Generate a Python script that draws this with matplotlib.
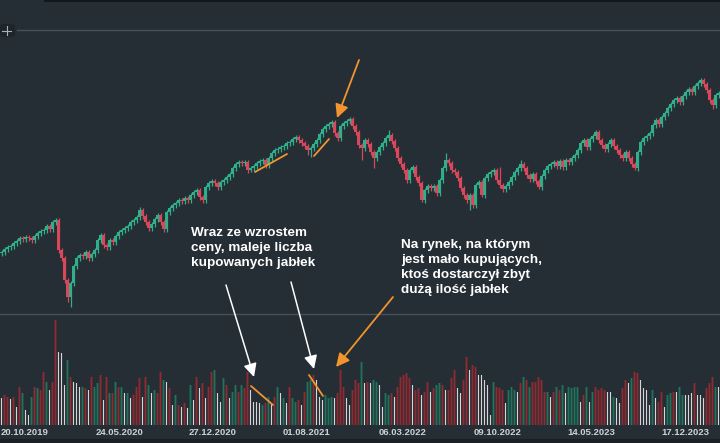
import matplotlib
matplotlib.use("Agg")
import matplotlib.pyplot as plt
from matplotlib import font_manager
from matplotlib.patches import FancyBboxPatch, Rectangle
import numpy as np

# ---------------- data (weekly candles, arbitrary price units) ----------------
first_open = 77
closes = [
    78, 81, 83, 84, 87, 89, 92, 91, 93, 92,
    90, 94, 97, 99, 100, 104, 101, 108, 110, 80,
    72, 50, 33, 47, 64, 72, 75, 74, 78, 72,
    76, 80, 90, 95, 85, 83, 90, 88, 94, 98,
    100, 102, 104, 108, 110, 113, 120, 114, 108, 102,
    106, 111, 115, 108, 101, 118, 122, 125, 127, 130,
    129, 132, 130, 135, 138, 140, 133, 130, 143, 147,
    149, 147, 143, 148, 150, 153, 156, 162, 166, 168,
    167, 168, 160, 162, 164, 167, 169, 170, 165, 172,
    177, 180, 181, 183, 184, 187, 188, 191, 193, 190,
    187, 184, 180, 182, 186, 190, 196, 201, 204, 206,
    208, 197, 192, 204, 207, 209, 211, 204, 198, 185,
    182, 190, 186, 178, 172, 178, 183, 187, 192, 195,
    189, 182, 172, 166, 160, 150, 160, 163, 153, 147,
    130, 140, 144, 142, 144, 137, 150, 162, 170, 167,
    160, 158, 152, 142, 135, 130, 135, 125, 145, 148,
    135, 152, 156, 158, 160, 150, 145, 141, 144, 148,
    153, 158, 162, 166, 162, 155, 151, 156, 149, 143,
    154, 160, 164, 166, 168, 164, 169, 163, 170, 168,
    172, 175, 180, 187, 190, 183, 191, 194, 198, 190,
    185, 181, 186, 190, 184, 180, 175, 172, 178, 172,
    166, 162, 178, 188, 192, 194, 197, 205, 210, 206,
    213, 217, 222, 226, 230, 232, 228, 234, 238, 241,
    238, 244, 247, 250, 246, 240, 230, 225, 235, 237,
]
# notable wick extremes (candle index -> price)
wick_high = {18: 112, 46: 123, 116: 213, 129: 200, 148: 177, 166: 163,
             173: 170, 198: 200, 233: 252}
wick_low = {22: 28, 23: 23, 49: 99, 83: 158, 102: 175, 103: 173, 120: 170,
            124: 162, 140: 128, 156: 120, 160: 133, 179: 141, 211: 160, 237: 221}

volume = [
    27, 30, 28, 26, 28, 18, 38, 32, 15, 10,
    28, 38, 37, 35, 53, 43, 35, 43, 105, 73,
    72, 40, 65, 48, 43, 42, 38, 38, 37, 35,
    48, 38, 42, 50, 25, 48, 32, 32, 43, 38,
    38, 32, 32, 27, 30, 38, 47, 28, 48, 40,
    32, 35, 32, 53, 45, 43, 37, 20, 30, 20,
    18, 22, 17, 40, 25, 48, 37, 42, 27, 38,
    53, 55, 32, 23, 47, 40, 27, 33, 40, 33,
    40, 37, 53, 35, 23, 23, 22, 20, 22, 28,
    22, 28, 38, 32, 27, 22, 38, 27, 23, 25,
    20, 33, 43, 45, 50, 45, 28, 25, 30, 27,
    28, 27, 32, 55, 38, 27, 20, 35, 45, 42,
    63, 42, 43, 42, 45, 43, 40, 18, 32, 30,
    32, 28, 38, 48, 50, 52, 47, 40, 35, 37,
    30, 33, 43, 33, 37, 40, 42, 40, 35, 35,
    47, 55, 37, 32, 45, 68, 55, 60, 58, 50,
    50, 45, 40, 10, 43, 38, 37, 35, 22, 35,
    38, 35, 33, 42, 48, 45, 38, 43, 43, 48,
    45, 33, 33, 28, 33, 38, 35, 40, 32, 38,
    37, 38, 38, 23, 30, 38, 23, 33, 38, 35,
    37, 35, 33, 33, 28, 27, 22, 37, 45, 42,
    47, 53, 52, 45, 37, 35, 20, 35, 27, 23,
    33, 18, 30, 32, 33, 33, 38, 30, 30, 30,
    32, 42, 30, 30, 27, 37, 42, 48, 38, 38,
]
# volume bar kind: r = down, g = up, w = highlighted (white)
vol_kind = list(
    "wrrwrwrgww" "grgrrgwrrw" "wwgrwwwgrw" "rggrwrgrgr"
    "gwgwrrrwrg" "wgrrgwrwgr" "wrwgwrwrwr" "rgwwgrwggr"
    "grrwwwwgrg" "wrgwgwrggr" "wrggrwwwgg" "gwrrrwwrrr"
    "gwrwggwwgg" "rwrrrrrwrr" "wrrwrggrwr" "rrwwrrwrrw"
    "wwwwgrrrwg" "ggwrgrgrrr" "rrgwrgrgwg" "gggwrgwgrr"
    "rrwwgwwrrw" "grrwwwwgwr" "rwggrwggww" "wrwwwrrrgw"
)

date_labels = ["20.10.2019", "24.05.2020", "27.12.2020", "01.08.2021",
               "06.03.2022", "09.10.2022", "14.05.2023", "17.12.2023"]
date_pos = [7.8, 39.5, 70.5, 101.8, 133.8, 165.2, 196.5, 227.8]

text_left = "Wraz ze wzrostem\nceny, maleje liczba\nkupowanych jabłek"
text_right = "Na rynek, na którym\njest mało kupujących,\nktoś dostarczył zbyt\ndużą ilość jabłek"

# ---------------- style ----------------
BG = "#252d35"
UP = "#2fb08b"
DOWN = "#d9475b"
VOL = {"r": "#922a31", "g": "#21735c", "w": "#d6d6d6"}
ORANGE = "#f2952e"
W, H = 720, 443

avail = {f.name for f in font_manager.fontManager.ttflist}
FAM = [f for f in ["Liberation Sans Narrow", "Liberation Sans", "DejaVu Sans"] if f in avail]
FAM_LBL = [f for f in ["Liberation Sans", "DejaVu Sans"] if f in avail]

fig = plt.figure(figsize=(W / 100, H / 100), dpi=100, facecolor=BG)


def fy(px):
    return 1 - px / H


ax = fig.add_axes([0, fy(314), 1, (314 - 30) / H])
axv = fig.add_axes([0, fy(425), 1, (425 - 314) / H])
for a in (ax, axv):
    a.set_facecolor(BG)
    for s in a.spines.values():
        s.set_visible(False)

n = len(closes)
idx = np.arange(n)
c = np.array(closes, dtype=float)
o = np.array([first_open] + closes[:-1], dtype=float)
up = c >= o
colors = np.where(up, UP, DOWN)
top = np.maximum(o, c)
bot = np.minimum(o, c)
highs = np.array([wick_high.get(i, top[i] + 2.5) for i in range(n)])
lows = np.array([wick_low.get(i, bot[i] - 2.5) for i in range(n)])

ax.vlines(idx, lows, highs, colors=colors, lw=0.9)
ax.bar(idx, np.maximum(top - bot, 1.5), bottom=bot, width=0.75, color=colors, lw=0)
ax.set_xlim(-0.5, n - 0.5)
ax.set_ylim(16, 300)
ax.set_xticks([])
ax.set_yticks([])

vcol = [VOL[k] for k in vol_kind]
vwid = [0.38 if k == "w" else 0.62 for k in vol_kind]
vbars = axv.bar(idx, volume, width=vwid, color=vcol, lw=0)
for b in vbars:
    b.set_snap(False)
axv.set_xlim(-0.5, n - 0.5)
axv.set_ylim(0, 111)
axv.set_yticks([])
axv.set_xticks(date_pos)
axv.set_xticklabels(date_labels, family=FAM_LBL, fontsize=6.8, fontweight="bold", color="#cfd3d7")
axv.tick_params(axis="x", length=0, pad=2.2)

# ---------------- overlay (pixel coordinates) ----------------
ov = fig.add_axes([0, 0, 1, 1])
ov.set_xlim(0, W)
ov.set_ylim(H, 0)
ov.axis("off")
ov.patch.set_alpha(0)

# frame lines
ov.plot([17, W], [30, 30], color="#46515b", lw=1.0)
ov.plot([0, W], [314, 314], color="#46515b", lw=1.0)
ov.add_patch(Rectangle((44, 0), W - 44, 1.5, color="#12171b", lw=0))
ov.add_patch(Rectangle((0, 439), W, 4, color="#1a2026", lw=0))
# crosshair tool icon
ov.add_patch(FancyBboxPatch((0, 24), 15, 13, boxstyle="round,pad=0,rounding_size=3",
                            fc="#1d242a", ec="none"))
ov.plot([2, 11], [30.5, 30.5], color="#aab2b9", lw=0.8)
ov.plot([6.5, 6.5], [26, 35], color="#aab2b9", lw=0.8)

# annotation texts
ov.text(191, 227, text_left, color="white", family=FAM, fontsize=9.7, fontweight="bold",
        va="top", ha="left", linespacing=1.33)
ov.text(401, 239, text_right, color="white", family=FAM, fontsize=9.7, fontweight="bold",
        va="top", ha="left", linespacing=1.33)

# arrows
def arrow(x0, y0, x1, y1, color, lw):
    ov.annotate("", xy=(x1, y1), xytext=(x0, y0),
                arrowprops=dict(arrowstyle="-|>,head_length=0.8,head_width=0.4",
                                mutation_scale=10, color=color, lw=lw,
                                shrinkA=0, shrinkB=0))

arrow(226, 285, 254, 377, "white", 1.1)
arrow(291, 282, 314, 369, "white", 1.1)
arrow(393, 297, 336, 367, ORANGE, 1.3)
arrow(359, 60, 337, 118, ORANGE, 1.3)

# orange trend marks
for (x0, y0, x1, y1) in [(255, 172, 287, 154), (314, 156, 329, 139),
                         (251, 386, 273, 405), (309, 375, 323, 396)]:
    ov.plot([x0, x1], [y0, y1], color=ORANGE, lw=1.3, solid_capstyle="round")

fig.savefig("out.png", dpi=100, facecolor=BG)
